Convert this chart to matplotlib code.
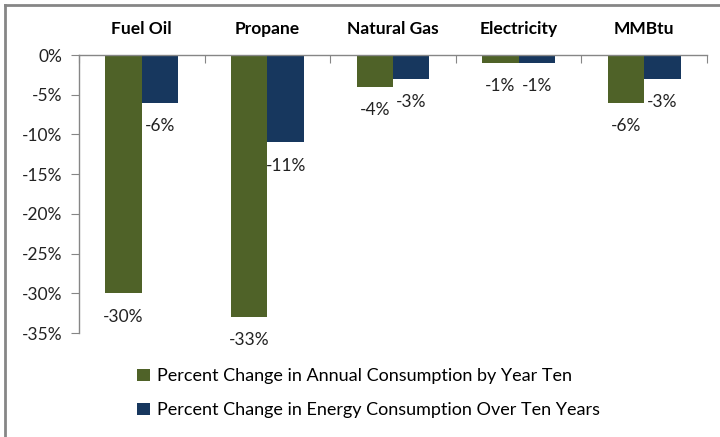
import numpy as np
import matplotlib.pyplot as plt
from matplotlib.lines import Line2D
from matplotlib.ticker import FuncFormatter

plt.rcParams['font.family'] = ['Lato', 'DejaVu Sans']

# donnees
categories = ['Fuel Oil', 'Propane', 'Natural Gas', 'Electricity', 'MMBtu']
annual = [-30, -33, -4, -1, -6]      # Percent Change in Annual Consumption by Year Ten
energy = [-6, -11, -3, -1, -3]       # Percent Change in Energy Consumption Over Ten Years
yticks = [0, -5, -10, -15, -20, -25, -30, -35]

green = '#4F6228'
blue = '#17375E'
grey = '#868686'

fig = plt.figure(figsize=(7.2, 4.37), dpi=100)
ax = fig.add_axes([79/720, 1-333/437, 628/720, 278/437])

x = np.arange(len(categories))
w = 0.29
b1 = ax.bar(x - w/2, annual, w, color=green, label='Percent Change in Annual Consumption by Year Ten')
b2 = ax.bar(x + w/2, energy, w, color=blue, label='Percent Change in Energy Consumption Over Ten Years')

### etiquettes sous le bout des barres
for bars, vals in [(b1, annual), (b2, energy)]:
    for r, v in zip(bars, vals):
        ax.annotate('%d%%' % v, (r.get_x() + r.get_width()/2, v), xytext=(0, -11),
                    textcoords='offset points', ha='center', va='top', fontsize=12.5, color='#222222')

ax.set_xlim(-0.5, len(categories) - 0.5)
ax.set_ylim(-35, 0)
ax.set_yticks(yticks)
ax.yaxis.set_major_formatter(FuncFormatter(lambda v, p: '%d%%' % v))
ax.tick_params(axis='y', length=6, color=grey, labelsize=12.5, pad=6, labelcolor='#222222')

### axe x en haut : ticks aux frontieres, noms au centre
ax.xaxis.tick_top()
ax.set_xticks(np.arange(len(categories) + 1) - 0.5)
ax.set_xticklabels([])
ax.tick_params(axis='x', which='major', direction='in', length=6, color=grey)
ax.set_xticks(x, minor=True)
ax.set_xticklabels(categories, minor=True, fontweight='bold', fontsize=12.5)
ax.tick_params(axis='x', which='minor', length=0, pad=13)

for s in ['right', 'bottom']:
    ax.spines[s].set_visible(False)
for s in ['left', 'top']:
    ax.spines[s].set_color(grey)
    ax.spines[s].set_linewidth(1)

fig.legend(handles=[b1, b2], loc='upper left', bbox_to_anchor=(121/720, 1-352/437), frameon=False,
           fontsize=13, handlelength=0.7, handleheight=0.7, handletextpad=0.4, labelspacing=1.0)

### cadre gris autour du graphique
fig.add_artist(Line2D([5/720, 1], [1-5/437, 1-5/437], color=grey, lw=2, transform=fig.transFigure))
fig.add_artist(Line2D([5/720, 5/720], [0, 1-5/437], color=grey, lw=2, transform=fig.transFigure))

fig.savefig('out.png', dpi=100)
